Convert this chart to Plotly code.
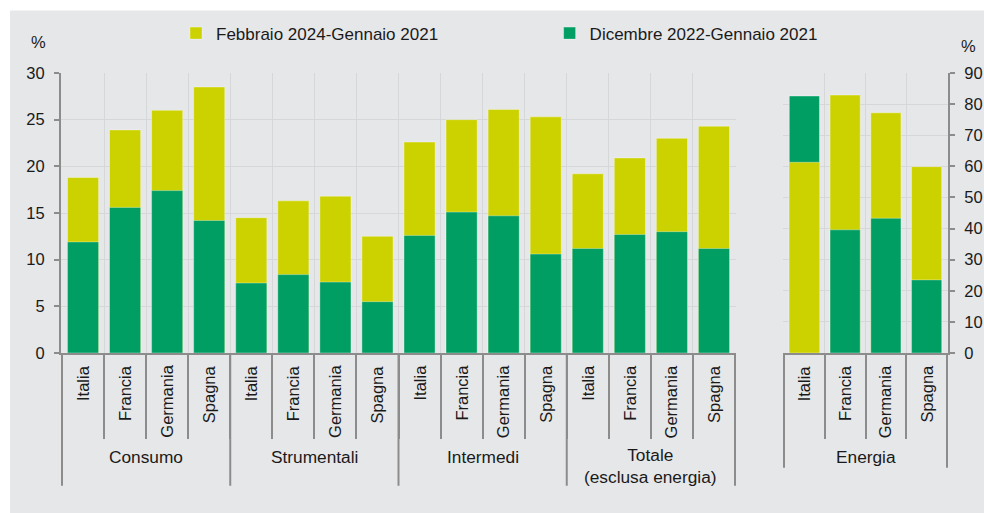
import plotly.graph_objects as go

# ---------------- data ----------------
groups = ["Consumo", "Strumentali", "Intermedi", "Totale<br>(esclusa energia)"]
countries = ["Italia", "Francia", "Germania", "Spagna"]
series_names = ["Febbraio 2024-Gennaio 2021", "Dicembre 2022-Gennaio 2021"]

feb24 = [18.8, 23.9, 26.0, 28.5,
         14.5, 16.3, 16.8, 12.5,
         22.6, 25.0, 26.1, 25.3,
         19.2, 20.9, 23.0, 24.3]
dec22 = [11.9, 15.6, 17.4, 14.2,
         7.5, 8.4, 7.6, 5.5,
         12.6, 15.1, 14.7, 10.6,
         11.2, 12.7, 13.0, 11.2]

energy_group = "Energia"
energy_feb24 = [61.3, 82.9, 77.2, 59.9]
energy_dec22 = [82.6, 39.6, 43.3, 23.5]

left_ticks = [0, 5, 10, 15, 20, 25, 30]
right_ticks = [0, 10, 20, 30, 40, 50, 60, 70, 80, 90]

# ---------------- styles ----------------
YELLOW = "#ccd200"
GREEN = "#009e62"
PANEL = "#e6e7e9"
GRID = "#d6d7d9"
AXIS = "#8c8c8c"
TXT = "#1a1a1a"
FONT = "Liberation Sans, Arial, sans-serif"
FS = 16.5
FSG = 17.3

left_ids = [f"{g}|{c}" for g in groups for c in countries]
right_ids = [f"{energy_group}|{c}" for c in countries]

fig = go.Figure()
edge = dict(width=1, color="rgba(255,255,255,0.35)")


def add_panel(ids, yv, gv, xa, ya, legend):
    fig.add_trace(go.Bar(x=ids, y=yv, name=series_names[0], marker=dict(color=YELLOW, line=edge),
                         width=0.74, xaxis=xa, yaxis=ya, showlegend=legend, legendrank=1,
                         hoverinfo="x+y"))
    fig.add_trace(go.Bar(x=ids, y=gv, name=series_names[1], marker=dict(color=GREEN, line=edge),
                         width=0.74, xaxis=xa, yaxis=ya, showlegend=legend, legendrank=2,
                         hoverinfo="x+y"))
    # the shorter bar is always drawn in front
    front = [y if y < g else None for y, g in zip(yv, gv)]
    if any(v is not None for v in front):
        fig.add_trace(go.Bar(x=ids, y=front, name=series_names[0], marker=dict(color=YELLOW, line=edge),
                             width=0.74, xaxis=xa, yaxis=ya, showlegend=False, hoverinfo="x+y"))


add_panel(left_ids, feb24, dec22, "x", "y", True)
add_panel(right_ids, energy_feb24, energy_dec22, "x2", "y2", False)

# geometry: targets in screenshot pixels; the capture compresses width slightly
SX = 1 / 0.989
W, H = round(984 * SX), 513
PL, PR, PT, PB = 60 * SX, 947 * SX, 72.5, 353
L, R, T, B = PL, W - PR, PT, H - PB
pw, ph = W - L - R, H - T - B


def px_x(p):
    return (p * SX - L) / pw


def px_y(p):
    return (PB - p) / ph


annotations = []
shapes = []

# grey panel background
shapes.append(dict(type="rect", xref="paper", yref="paper", x0=px_x(9), x1=px_x(1000),
                   y0=px_y(H + 2), y1=px_y(10), fillcolor=PANEL, line=dict(width=0), layer="below"))

inner_y = px_y(363)
for ids, xr in [(left_ids, "x"), (right_ids, "x2")]:
    for cid in ids:
        annotations.append(dict(x=cid, xref=xr, y=inner_y, yref="paper", text=cid.split("|")[1],
                                textangle=-90, showarrow=False, xanchor="center", yanchor="top",
                                font=dict(size=FS, color=TXT)))

# group labels and long separators (left panel)
n = len(countries)
for gi, g in enumerate(groups):
    center = gi * n + (n - 1) / 2
    annotations.append(dict(x=center, xref="x", y=px_y(457 if "<br>" not in g else 466.5), yref="paper",
                            text=g, showarrow=False, xanchor="center", yanchor="middle",
                            font=dict(size=FSG, color=TXT)))
for b in range(len(groups) + 1):
    xb = b * n - 0.5
    shapes.append(dict(type="line", xref="x", yref="paper", x0=xb, x1=xb, y0=0, y1=px_y(486),
                       line=dict(color=AXIS, width=2)))

annotations.append(dict(x=(n - 1) / 2, xref="x2", y=px_y(457), yref="paper", text=energy_group,
                        showarrow=False, xanchor="center", yanchor="middle",
                        font=dict(size=FSG, color=TXT)))
for xb in [-0.5, n - 0.5]:
    shapes.append(dict(type="line", xref="x2", yref="paper", x0=xb, x1=xb, y0=0, y1=px_y(468),
                       line=dict(color=AXIS, width=2)))

# % labels
annotations.append(dict(x=px_x(37), y=px_y(41), xref="paper", yref="paper", text="%",
                        xanchor="center", yanchor="middle",
                        showarrow=False, font=dict(size=FS, color=TXT)))
annotations.append(dict(x=px_x(967), y=px_y(45), xref="paper", yref="paper", text="%",
                        xanchor="center", yanchor="middle",
                        showarrow=False, font=dict(size=FS, color=TXT)))

xcommon = dict(type="category", showticklabels=False, tickson="boundaries", ticks="outside",
               ticklen=437 - 353, tickwidth=2, tickcolor=AXIS, showline=True, linecolor=AXIS,
               linewidth=2, showgrid=True, gridcolor=GRID, gridwidth=1, fixedrange=True)

fig.update_layout(
    width=W, height=H,
    autosize=False,
    margin=dict(l=L, r=R, t=T, b=B, pad=0),
    paper_bgcolor="white",
    plot_bgcolor="rgba(0,0,0,0)",
    font=dict(family=FONT, size=FS, color=TXT),
    barmode="overlay",
    bargap=0.26,
    xaxis=dict(domain=[0, px_x(735)], anchor="y", **xcommon),
    xaxis2=dict(domain=[px_x(782), 1], anchor="y2", **xcommon),
    yaxis=dict(range=[0, 30], tickvals=left_ticks, ticks="outside", ticklen=5, tickwidth=2,
               tickcolor=AXIS, showline=True, linecolor=AXIS, linewidth=2, gridcolor=GRID,
               gridwidth=1, zeroline=False, ticklabelstandoff=6, anchor="x",
               tickfont=dict(size=FS, color=TXT)),
    yaxis2=dict(range=[0, 90], tickvals=right_ticks, ticks="outside", ticklen=5, tickwidth=2,
                tickcolor=AXIS, showline=True, linecolor=AXIS, linewidth=2, gridcolor=GRID,
                gridwidth=1, zeroline=False, side="right", anchor="x2", ticklabelstandoff=6,
                tickfont=dict(size=FS, color=TXT)),
    legend=dict(orientation="h", x=px_x(175), xanchor="left", y=px_y(33), yanchor="middle",
                bgcolor="rgba(0,0,0,0)", font=dict(size=17, color=TXT),
                entrywidth=325 * SX, entrywidthmode="pixels", traceorder="normal"),
    showlegend=True,
    annotations=annotations,
    shapes=shapes,
)

fig.write_html(
    "out.html",
    config={"responsive": False, "displayModeBar": False},
    post_script="document.body.style.margin='0';",
)
